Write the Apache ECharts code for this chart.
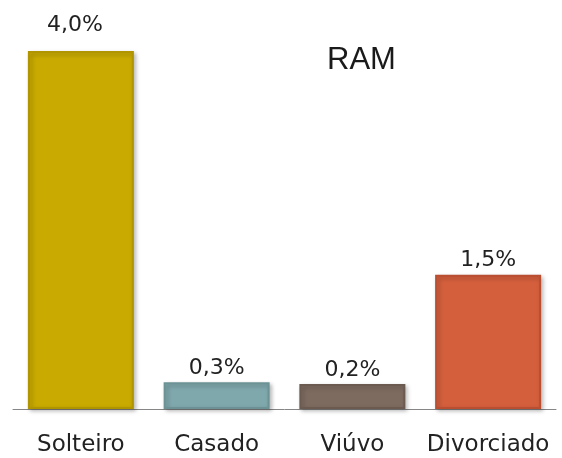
<!DOCTYPE html>
<html>
<head>
<meta charset="utf-8">
<script src="https://cdn.jsdelivr.net/npm/echarts@6/dist/echarts.min.js"></script>
<style>
  html, body { margin: 0; padding: 0; background: #fff; }
  #chart { width: 562px; height: 458px; }
</style>
</head>
<body>
<div id="chart"></div>
<script>
// data
var categories = ['Solteiro', 'Casado', 'Viúvo', 'Divorciado'];
var values = [4.0, 0.3, 0.28, 1.5];
var valueLabels = ['4,0%', '0,3%', '0,2%', '1,5%'];
var barColors = ['#C9AA00', '#7FA8AD', '#7E6B60', '#D45F3D'];
var edgeColors = ['#B09400', '#6C9296', '#6A5A50', '#B94E30'];

var chart = echarts.init(document.getElementById('chart'), null, { renderer: 'canvas' });

var seriesData = [];
for (var i = 0; i < values.length; i++) {
	var item = {
		value: values[i],
		itemStyle: {
			color: barColors[i],
			borderColor: edgeColors[i],
			borderWidth: 2
		}
	};
	// first label sits higher and a bit to the left in the original
	if (i == 0) item.label = { distance: 15, offset: [-6, 0] };
	seriesData.push(item);
}

var option = {
	animation: false,
	title: {
		text: 'RAM',
		left: 322,
		top: 40,
		textStyle: {
			fontFamily: 'Liberation Sans',
			fontWeight: 'normal',
			fontSize: 31,
			color: '#1a1a1a'
		}
	},
	grid: {
		left: 13,
		right: 6,
		top: 51,
		bottom: 49,
		containLabel: false
	},
	xAxis: {
		type: 'category',
		data: categories,
		axisLine: {
			lineStyle: { color: '#868686', width: 1 }
		},
		axisTick: { show: false },
		axisLabel: {
			interval: 0,
			fontFamily: 'DejaVu Sans',
			fontSize: 23,
			color: '#222',
			margin: 25
		}
	},
	yAxis: {
		type: 'value',
		min: 0,
		max: 4,
		show: false,
		splitLine: { show: false }
	},
	series: [{
		type: 'bar',
		barWidth: 106,
		data: seriesData,
		itemStyle: {
			shadowBlur: 4,
			shadowColor: 'rgba(0,0,0,0.25)',
			shadowOffsetX: 2,
			shadowOffsetY: 2
		},
		label: {
			show: true,
			position: 'top',
			distance: 3,
			fontFamily: 'DejaVu Sans',
			fontSize: 22,
			color: '#222',
			formatter: function(p) {
				return valueLabels[p.dataIndex];
			}
		}
	}]
};

chart.setOption(option);
</script>
</body>
</html>
